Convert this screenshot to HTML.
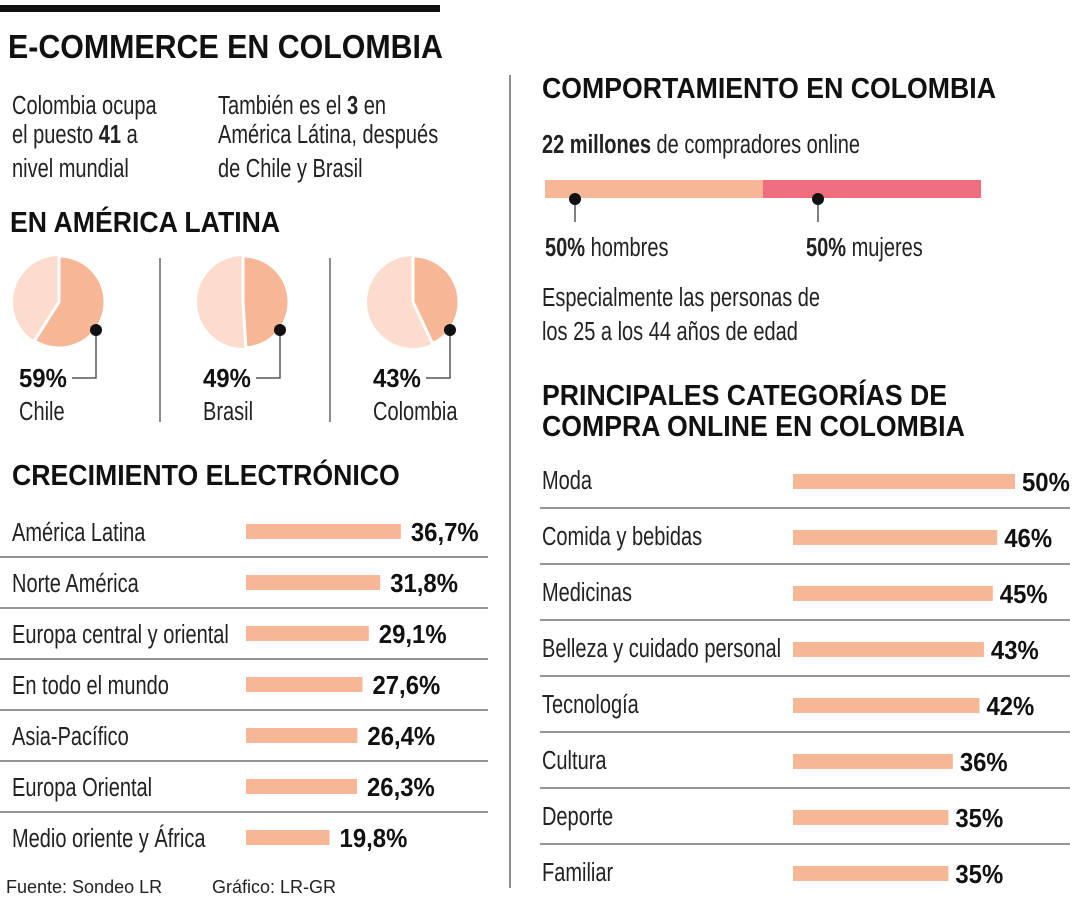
<!DOCTYPE html>
<html><head><meta charset="utf-8"><style>
body{margin:0;background:#fff}
svg{display:block;font-family:"Liberation Sans Narrow","Liberation Sans",sans-serif}
.t{font-weight:bold;font-size:29px;fill:#111}
.l{font-size:26px;fill:#222}
.b{font-size:26px;font-weight:bold;fill:#111}
</style></head><body>
<svg id="c" width="1080" height="900">
<rect x="0" y="5" width="440" height="7" fill="#111"/>
<text class="t" x="8" y="58" style="font-size:33px">E-COMMERCE EN COLOMBIA</text>
<text class="l" x="12" y="114">Colombia ocupa</text>
<text class="l" x="12" y="143">el puesto <tspan font-weight="bold">41</tspan> a</text>
<text class="l" x="12" y="177">nivel mundial</text>
<text class="l" x="218" y="114">También es el <tspan font-weight="bold">3</tspan> en</text>
<text class="l" x="218" y="143">América Látina, después</text>
<text class="l" x="218" y="177">de Chile y Brasil</text>
<text class="t" x="10" y="232">EN AMÉRICA LATINA</text>
<line x1="160" y1="258" x2="160" y2="422" stroke="#666" stroke-width="1.5"/>
<line x1="330" y1="258" x2="330" y2="422" stroke="#666" stroke-width="1.5"/>
<line x1="510" y1="75" x2="510" y2="888" stroke="#666" stroke-width="1.5"/>
<g id="pies"></g>
<text class="t" x="12" y="485">CRECIMIENTO ELECTRÓNICO</text>
<g id="growth"></g>
<text x="6" y="893" font-size="18" fill="#222" font-family="Liberation Sans,sans-serif">Fuente: Sondeo LR</text>
<text x="212" y="893" font-size="18" fill="#222" font-family="Liberation Sans,sans-serif">Gráfico: LR-GR</text>
<text class="t" x="542" y="98">COMPORTAMIENTO EN COLOMBIA</text>
<text class="l" x="542" y="153"><tspan font-weight="bold">22 millones</tspan> de compradores online</text>
<g id="gender"></g>
<text class="l" x="542" y="306">Especialmente las personas de</text>
<text class="l" x="542" y="340">los 25 a los 44 años de edad</text>
<text class="t" x="542" y="405">PRINCIPALES CATEGORÍAS DE</text>
<text class="t" x="542" y="436">COMPRA ONLINE EN COLOMBIA</text>
<g id="cats"></g>
</svg>
<script>
const pieNames=["Chile","Brasil","Colombia"];
const pieValues=[59,49,43];
const growthLabels=["América Latina","Norte América","Europa central y oriental","En todo el mundo","Asia-Pacífico","Europa Oriental","Medio oriente y África"];
const growthValues=[36.7,31.8,29.1,27.6,26.4,26.3,19.8];
const genderValues=[50,50];
const genderLabels=["hombres","mujeres"];
const catLabels=["Moda","Comida y bebidas","Medicinas","Belleza y cuidado personal","Tecnología","Cultura","Deporte","Familiar"];
const catValues=[50,46,45,43,42,36,35,35];
const NS="http://www.w3.org/2000/svg";
function mk(p,tag,a,txt){const e=document.createElementNS(NS,tag);for(const k in a)e.setAttribute(k,a[k]);if(txt!=null)e.textContent=txt;p.appendChild(e);return e;}
const fmt=v=>v.toFixed(1).replace('.',',')+'%';
// pies
const pies=document.getElementById('pies');
const pcx=[59,243,413];
pieValues.forEach((v,i)=>{
 const cx=pcx[i],cy=302,r=46;
 const c=mk(pies,'circle',{cx,cy,r,fill:'#fbdccd'});
 
 
 const a=v/100*2*Math.PI,x=cx+r*Math.sin(a),y=cy-r*Math.cos(a);
 const s=mk(pies,'path',{d:`M${cx},${cy}L${cx},${cy-r}A${r},${r} 0 ${v>50?1:0} 1 ${x},${y}Z`,fill:'#f7b797',stroke:'#fff','stroke-width':3,'stroke-linejoin':'round'});
 
 
 const dx=cx+37,dy=330;
 mk(pies,'polyline',{points:`${dx},${dy} ${dx},${378} ${cx+13},378`,fill:'none',stroke:'#555','stroke-width':1.5});
 const d=mk(pies,'circle',{cx:dx,cy:dy,r:6,fill:'#111'});
 
 
 const t=mk(pies,'text',{x:cx-40,y:387,class:'b'},v+'%');
 
 
 const n=mk(pies,'text',{x:cx-40,y:420,class:'l'},pieNames[i]);
 
 
});
// growth bars
const g=document.getElementById('growth');
const gx=v=>246+v*4.22;
growthLabels.forEach((lab,i)=>{
 const y=532+i*51;
 const t=mk(g,'text',{x:12,y:y+9,class:'l'},lab);
 
 
 const b=mk(g,'rect',{x:246,y:y-8,width:gx(growthValues[i])-246,height:15,fill:'#f7b797'});
 
 
 const v=mk(g,'text',{x:gx(growthValues[i])+10,y:y+9,class:'b'},fmt(growthValues[i]));
 
 
 if(i<growthLabels.length-1){const l=mk(g,'line',{x1:0,x2:488,y1:y+25,y2:y+25,stroke:'#555','stroke-width':1.2});
 
 }
});
// gender
const gd=document.getElementById('gender');
const tot=genderValues[0]+genderValues[1],W=436;
const w0=W*genderValues[0]/tot;
const r1=mk(gd,'rect',{x:545,y:180,width:w0,height:18,fill:'#f7b797'});


const r2=mk(gd,'rect',{x:545+w0,y:180,width:W-w0,height:18,fill:'#ee6e80'});


[[575,545],[818,806]].forEach((p,i)=>{
 mk(gd,'line',{x1:p[0],x2:p[0],y1:199,y2:222,stroke:'#555','stroke-width':1.5});
 const d=mk(gd,'circle',{cx:p[0],cy:199,r:6,fill:'#111'});
 
 
 const t=mk(gd,'text',{x:p[1],y:256,class:'l'});
 
 
 mk(t,'tspan',{'font-weight':'bold'},genderValues[i]+'%');
 mk(t,'tspan',{},' '+genderLabels[i]);
});
// categories
const cg=document.getElementById('cats');
const cx=v=>793+v*4.44;
catLabels.forEach((lab,i)=>{
 const y=481+i*56;
 const t=mk(cg,'text',{x:542,y:y+8,class:'l'},lab);
 
 
 const b=mk(cg,'rect',{x:793,y:y-7,width:cx(catValues[i])-793,height:15,fill:'#f7b797'});
 
 
 const v=mk(cg,'text',{x:cx(catValues[i])+7,y:y+10,class:'b'},catValues[i]+'%');
 
 
 if(i<catLabels.length-1){const l=mk(cg,'line',{x1:540,x2:1070,y1:y+27,y2:y+27,stroke:'#555','stroke-width':1.2});
 
 }
});
// condense text horizontally (narrow font fallback)
document.querySelectorAll('#c text').forEach(t=>{
 const cls=t.getAttribute('class');
 if(!cls)return;
 const s=cls==='l'?0.77:0.92;
 const x=parseFloat(t.getAttribute('x'));
 t.setAttribute('transform',`translate(${x},0) scale(${s},1) translate(${-x},0)`);
});
</script>
</body></html>
